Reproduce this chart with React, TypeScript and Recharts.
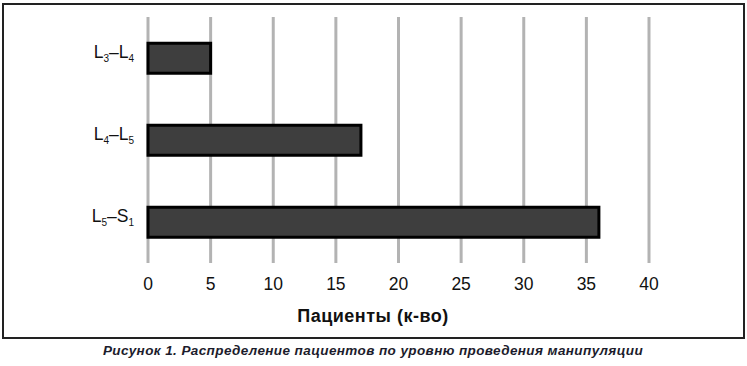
import { BarChart, Bar, XAxis, YAxis, CartesianGrid } from 'recharts'

const segments = ['L3–L4', 'L4–L5', 'L5–S1']
const patients = [5, 17, 36]
const xTicks = [0, 5, 10, 15, 20, 25, 30, 35, 40]

// label parts: [main, sub, main, sub]
const labelParts: Record<string, string[]> = {
  'L3–L4': ['L', '3', '–L', '4'],
  'L4–L5': ['L', '4', '–L', '5'],
  'L5–S1': ['L', '5', '–S', '1'],
}

const data = segments.map((s, i) => ({ segment: s, patients: patients[i] }))

const font = '"Liberation Sans", Arial, sans-serif'

function SegmentTick(props: any) {
  const { x, y, payload } = props
  const parts = labelParts[payload.value] || [payload.value]
  return (
    <text x={x} y={y} dy={7} textAnchor="end" fontFamily={font} fill="#111">
      {parts.map((p, i) =>
        i % 2 === 0 ? (
          <tspan key={i} fontSize={17.5} dy={i === 0 ? 0 : -3.5}>{p}</tspan>
        ) : (
          <tspan key={i} fontSize={10} dy={3.5}>{p}</tspan>
        )
      )}
    </text>
  )
}

export default function App() {
  return (
    <div style={{ position: 'absolute', left: 0, top: 0, width: 747, height: 366, background: '#fff' }}>
      <div
        style={{
          position: 'absolute',
          left: 2,
          top: 3,
          width: 739,
          height: 332,
          border: '2px solid #222',
        }}
      />
      <div style={{ position: 'absolute', left: 0, top: 0 }}>
        <BarChart
          width={747}
          height={366}
          data={data}
          layout="vertical"
          margin={{ top: 17, right: 98, bottom: 65, left: 8 }}
          barCategoryGap="32%"
        >
          <CartesianGrid horizontal={false} vertical stroke="#b3b3b3" strokeWidth={3} />
          <XAxis
            type="number"
            domain={[0, 40]}
            ticks={xTicks}
            axisLine={false}
            tickLine={false}
            tickMargin={9}
            height={38}
            tick={{ fontFamily: font, fontSize: 17.5, fill: '#111' }}
            interval={0}
          />
          <YAxis
            type="category"
            dataKey="segment"
            width={140}
            axisLine={false}
            tickLine={false}
            tickMargin={8}
            tick={<SegmentTick />}
          />
          <Bar dataKey="patients" fill="#3e3e3e" stroke="#000" strokeWidth={3} isAnimationActive={false} />
        </BarChart>
      </div>
      <div
        style={{
          position: 'absolute',
          left: 3,
          width: 740,
          top: 306,
          textAlign: 'center',
          fontFamily: font,
          fontWeight: 'bold',
          fontSize: 18,
          letterSpacing: 0.5,
          color: '#111',
        }}
      >
        Пациенты (к-во)
      </div>
      <div
        style={{
          position: 'absolute',
          left: 3,
          width: 740,
          top: 343,
          textAlign: 'center',
          fontFamily: font,
          fontWeight: 'bold',
          fontStyle: 'italic',
          fontSize: 13.5,
          letterSpacing: 0.4,
          color: '#1c1c2c',
        }}
      >
        Рисунок 1. Распределение пациентов по уровню проведения манипуляции
      </div>
    </div>
  )
}
